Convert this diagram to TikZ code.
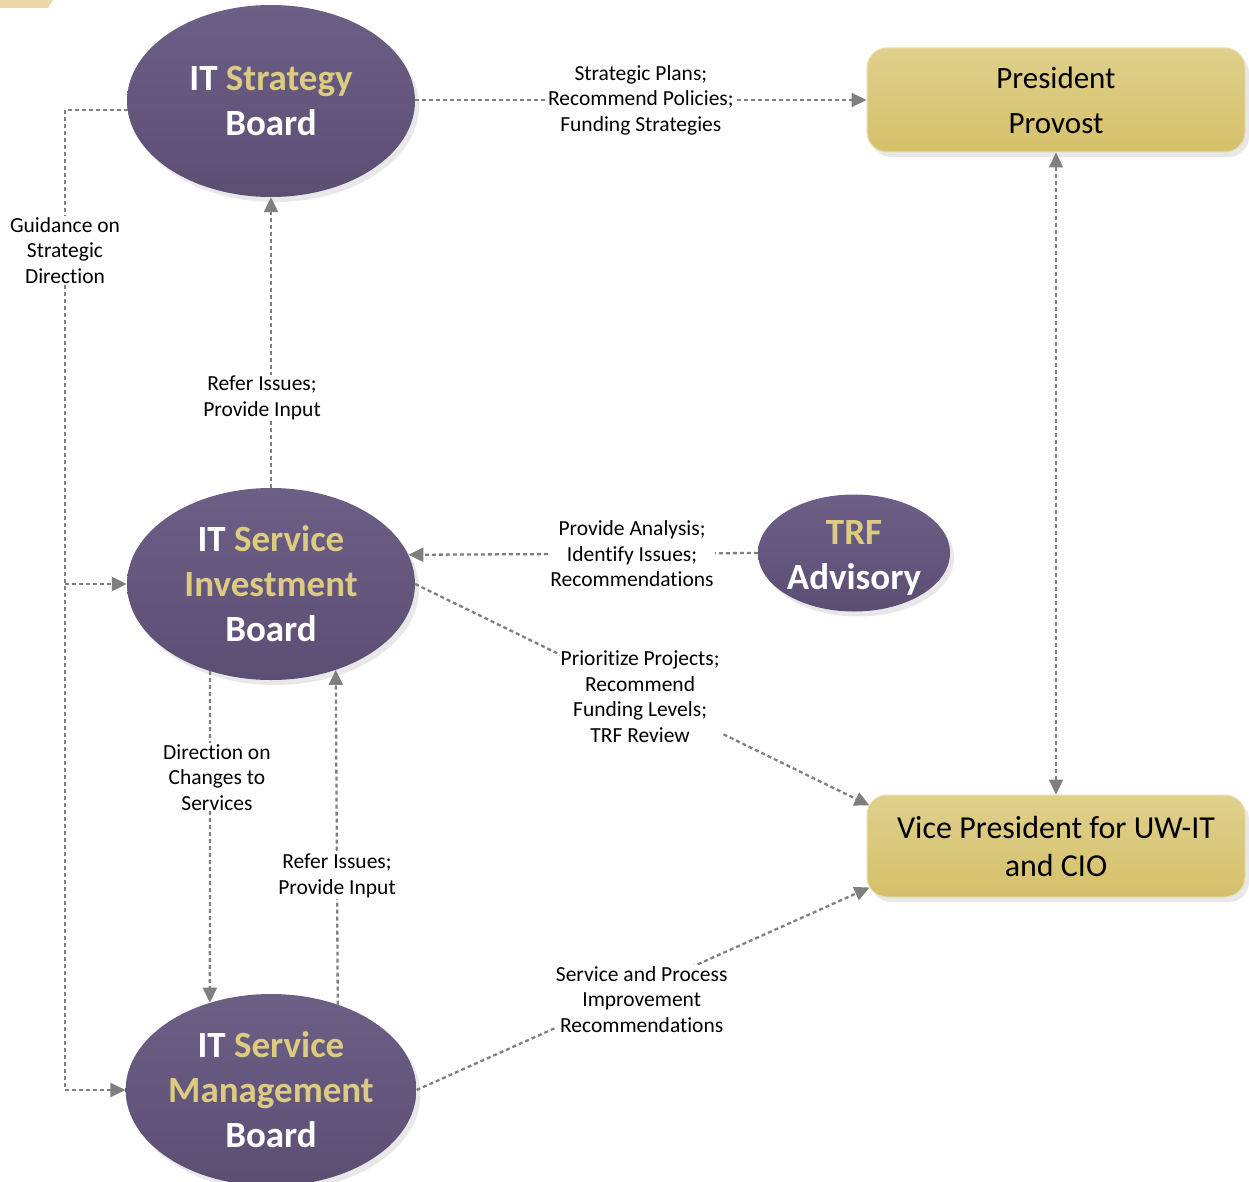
\documentclass[tikz,border=0pt]{standalone}
\usepackage{fontspec}
\setmainfont{Carlito}[Ligatures=NoCommon]
\usetikzlibrary{arrows.meta,shapes.geometric,shadows,calc}
\definecolor{ellTop}{HTML}{6C5F86}
\definecolor{ellBot}{HTML}{5C4E73}
\definecolor{goldtxt}{HTML}{DCCB80}
\definecolor{boxTop}{HTML}{DFD08C}
\definecolor{boxBot}{HTML}{D5C06A}
\definecolor{boxEdge}{HTML}{E8DDB0}
\definecolor{arrowgray}{HTML}{7F7F7F}
\definecolor{tabgold}{HTML}{EAD9A6}
\begin{document}
\begin{tikzpicture}[x=1pt,y=1pt,
  board/.style={ellipse, inner sep=0pt, top color=ellTop, bottom color=ellBot, draw=none,
    minimum width=288pt, minimum height=192pt, align=center, text=white,
    font=\bfseries\fontsize{37}{45}\selectfont,
    drop shadow={shadow xshift=4pt, shadow yshift=-5pt, opacity=0.15, fill=black!60}},
  smallboard/.style={board, minimum width=192pt, minimum height=117pt, inner sep=-5pt},
  office/.style={rectangle, rounded corners=20pt, inner sep=0pt, top color=boxTop, bottom color=boxBot,
    draw=boxEdge, line width=1pt, minimum width=378pt, align=center,
    drop shadow={shadow xshift=4pt, shadow yshift=-5pt, opacity=0.15, fill=black!60}},
  conn/.style={draw=arrowgray, line width=2.3pt, dash pattern=on 4pt off 3pt,
    -{Triangle[length=15pt,width=14pt]}},
  lbl/.style={fill=white, inner sep=1pt, align=center, text=black,
    font=\fontsize{21.5}{25.5}\selectfont}
]
\useasboundingbox (0,0) rectangle (1249,-1182);
\fill[tabgold] (0,0) -- (53,0) -- (48,-8) -- (0,-8) -- cycle;

\node[board] (strat) at (271,-101) {IT \textcolor{goldtxt}{Strategy}\\Board};
\node[board] (inv) at (271,-584) {IT \textcolor{goldtxt}{Service}\\\textcolor{goldtxt}{Investment}\\Board};
\node[board] (mgmt) at (271,-1090) {IT \textcolor{goldtxt}{Service}\\\textcolor{goldtxt}{Management}\\Board};
\node[smallboard] (trf) at (854,-553) {\rule{0pt}{34pt}\textcolor{goldtxt}{TRF}\\Advisory};

\node[office, minimum height=104pt, font=\fontsize{31}{45}\selectfont] (pres) at (1056,-100) {President\\Provost};
\node[office, minimum height=102pt, font=\fontsize{32}{38}\selectfont] (vp) at (1056,-846) {Vice President for UW-IT\\and CIO};

\coordinate (g1) at (65,-110);
\coordinate (g2) at (65,-1090);

% Strategy -> President
\draw[conn] (strat.east |- 0,-100) -- (pres.west)
  node[lbl, pos=0.5] {Strategic Plans;\\Recommend Policies;\\Funding Strategies};

% Guidance on strategic direction
\draw[conn, -] ([xshift=1pt]strat.west |- g1) -- (g1) -- (g2)
  node[lbl, pos=0.143] {Guidance on\\Strategic\\Direction};
\draw[conn] (g2) -- (mgmt.west);
\draw[conn] (g1 |- inv.west) -- (inv.west);

% Investment -> Strategy
\draw[conn] (inv.north) -- (strat.south)
  node[lbl, pos=0.31, xshift=-9pt] {Refer Issues;\\Provide Input};

% TRF -> Investment
\draw[conn] (trf.west) -- (inv.12.8)
  node[lbl, pos=0.36] {Provide Analysis;\\Identify Issues;\\Recommendations};

% Investment -> VP
\draw[conn] (inv.east) -- ($(vp.north west)+(3,-11)$)
  node[lbl, pos=0.495, yshift=-3pt] {Prioritize Projects;\\Recommend\\Funding Levels;\\TRF Review};

% President <-> VP
\draw[conn, {Triangle[length=15pt,width=14pt]}-{Triangle[length=15pt,width=14pt]}] (pres.south) -- (vp.north);

% Investment -> Management
\draw[conn] (inv.235) -- (mgmt.125)
  node[lbl, pos=0.32, xshift=7pt] {Direction on\\Changes to\\Services};

% Management -> Investment
\draw[conn] (mgmt.52.3) -- (inv.307.7)
  node[lbl, pos=0.384] {Refer Issues;\\Provide Input};

% Management -> VP
\draw[conn] (mgmt.east) -- ($(vp.south west)+(3,10)$)
  node[lbl, pos=0.497, yshift=-10pt] {Service and Process\\Improvement\\Recommendations};
\end{tikzpicture}
\end{document}
